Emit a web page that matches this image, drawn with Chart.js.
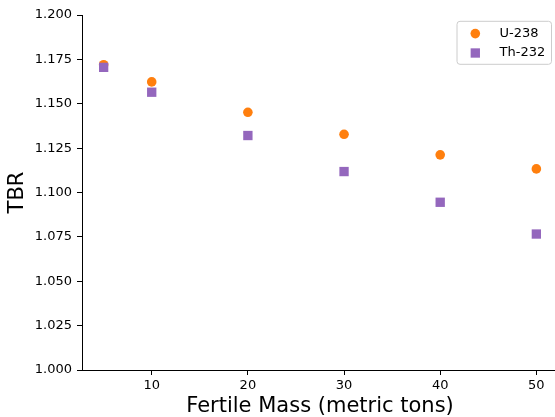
<!DOCTYPE html>
<html>
<head>
<meta charset="utf-8">
<script src="https://cdn.jsdelivr.net/npm/chart.js@4/dist/chart.umd.min.js"></script>
<style>
  html, body { margin: 0; padding: 0; background: #fff; overflow: hidden; }
  canvas { display: block; }
</style>
</head>
<body>
<canvas id="tbrChart" width="558" height="417"></canvas>
<script>
const fertileMass = [5, 10, 20, 30, 40, 50];
const tbrU238 = [1.1720, 1.1623, 1.1452, 1.1328, 1.1212, 1.1133];
const tbrTh232 = [1.1705, 1.1565, 1.1321, 1.1118, 1.0945, 1.0766];
const xTicks = [10, 20, 30, 40, 50];
const yTicks = [1.000, 1.025, 1.050, 1.075, 1.100, 1.125, 1.150, 1.175, 1.200];
const seriesNames = ['U-238', 'Th-232'];
const seriesColors = ['#ff7f0e', '#9467bd'];
const seriesShapes = ['circle', 'rect'];
const seriesRadius = [4.8, 6.6];

const FONT = 'DejaVu Sans';

function toPoints(values) {
    return fertileMass.map((m, i) => ({ x: m, y: values[i] }));
}

// matplotlib-style legend box, drawn in the top right of the plot area
const boxLegend = {
    id: 'boxLegend',
    afterDraw(chart) {
        const ctx = chart.ctx;
        const area = chart.chartArea;
        const w = 94.5, h = 43;
        const left = area.right - 6.5 - w;
        const top = area.top + 6.3;
        ctx.save();
        ctx.beginPath();
        ctx.roundRect(left, top, w, h, 3);
        ctx.fillStyle = 'rgba(255,255,255,0.8)';
        ctx.fill();
        ctx.strokeStyle = '#cccccc';
        ctx.lineWidth = 1;
        ctx.stroke();

        seriesNames.forEach((name, i) => {
            const cy = top + 12.3 + i * 19.4;
            ctx.fillStyle = seriesColors[i];
            Chart.helpers.drawPoint(ctx, {
                pointStyle: seriesShapes[i],
                radius: seriesRadius[i],
                rotation: 0,
                borderWidth: 0
            }, left + 18.3, cy);
            ctx.fillStyle = '#000';
            ctx.font = '13px "' + FONT + '"';
            ctx.textBaseline = 'middle';
            ctx.textAlign = 'left';
            ctx.fillText(name, left + 42.6, cy);
        });
        ctx.restore();
    }
};

new Chart(document.getElementById('tbrChart'), {
    type: 'scatter',
    data: {
        datasets: [
            { label: seriesNames[0], data: toPoints(tbrU238), order: 1 },
            { label: seriesNames[1], data: toPoints(tbrTh232), order: 0 }
        ].map((ds, i) => Object.assign(ds, {
            backgroundColor: seriesColors[i],
            borderColor: seriesColors[i],
            borderWidth: 0,
            pointStyle: seriesShapes[i],
            pointRadius: seriesRadius[i],
            pointHoverRadius: seriesRadius[i]
        }))
    },
    options: {
        responsive: false,
        animation: false,
        layout: { autoPadding: false, padding: { top: 15, right: 0, left: 0, bottom: 0 } },
        plugins: {
            legend: { display: false },
            tooltip: { enabled: false }
        },
        scales: {
            x: {
                type: 'linear',
                min: 2.75,
                max: 52.25,
                afterBuildTicks: s => { s.ticks = xTicks.map(v => ({ value: v })); },
                afterFit: s => { s.height = 47; },
                border: { color: '#000', width: 1 },
                grid: { drawOnChartArea: false, drawTicks: true, tickLength: 5, color: '#000' },
                ticks: {
                    color: '#000', padding: 3,
                    font: { family: FONT, size: 13 },
                    callback: v => String(v)
                },
                title: {
                    display: true,
                    text: 'Fertile Mass (metric tons)',
                    color: '#000',
                    font: { family: FONT, size: 21, lineHeight: 1 },
                    padding: { top: 0, bottom: 0 }
                }
            },
            y: {
                type: 'linear',
                min: 1.0,
                max: 1.2,
                afterBuildTicks: s => { s.ticks = yTicks.map(v => ({ value: v })); },
                afterFit: s => { s.width = 82; },
                border: { color: '#000', width: 1 },
                grid: { drawOnChartArea: false, drawTicks: true, tickLength: 5, color: '#000' },
                ticks: {
                    color: '#000', padding: 5,
                    font: { family: FONT, size: 13 },
                    callback: v => v.toFixed(3)
                },
                title: {
                    display: true,
                    text: 'TBR',
                    color: '#000',
                    font: { family: FONT, size: 21, lineHeight: 1 },
                    padding: { top: 7, bottom: 0 }
                }
            }
        }
    },
    plugins: [boxLegend]
});
</script>
</body>
</html>
